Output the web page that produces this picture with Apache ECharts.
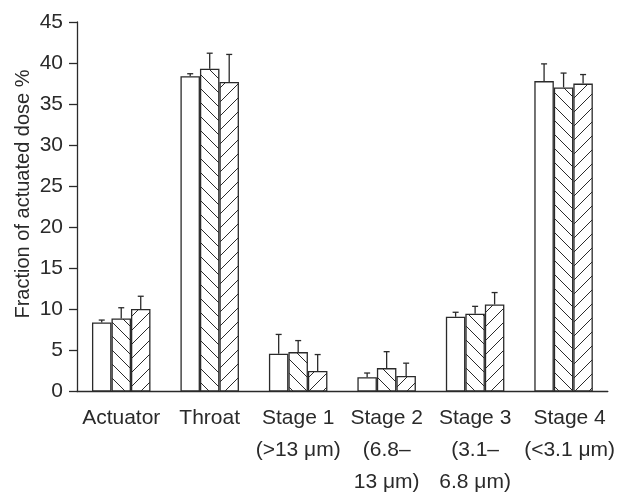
<!DOCTYPE html>
<html><head><meta charset="utf-8">
<script src="https://cdn.jsdelivr.net/npm/echarts@6/dist/echarts.min.js"></script>
<style>html,body{margin:0;padding:0;background:#fff}#c{width:618px;height:500px}</style>
</head><body><div id="c"></div>
<script>
var categories = ['Actuator', 'Throat', 'Stage 1\n(>13 μm)', 'Stage 2\n(6.8–\n13 μm)', 'Stage 3\n(3.1–\n6.8 μm)', 'Stage 4\n(<3.1 μm)'];
var seriesA = [8.4, 38.4, 4.6, 1.75, 9.1, 37.8];
var errA    = [0.3, 0.3, 2.35, 0.5, 0.55, 2.1];
var seriesB = [8.9, 39.3, 4.8, 2.85, 9.47, 37.03];
var errB    = [1.3, 1.9, 1.4, 2.0, 0.9, 1.75];
var seriesC = [10.05, 37.7, 2.5, 1.9, 10.6, 37.5];
var errC    = [1.55, 3.35, 2.0, 1.55, 1.45, 1.1];
var yTicks = [0, 5, 10, 15, 20, 25, 30, 35, 40, 45];
var yTitle = 'Fraction of actuated dose %';

var FONT = '"Liberation Sans", Arial, sans-serif';
var INK = '#2a2a2a';
var BARW = 19.5;

function hatch(dir) {
  var s = 14;
  var c = document.createElement('canvas');
  c.width = s; c.height = s;
  var g = c.getContext('2d');
  g.fillStyle = '#fff'; g.fillRect(0, 0, s, s);
  g.strokeStyle = INK; g.lineWidth = 1;
  g.beginPath();
  if (dir === 'back') {
    g.moveTo(-2, -2); g.lineTo(s + 2, s + 2);
    g.moveTo(-2, s - 2); g.lineTo(2, s + 2);
    g.moveTo(s - 2, -2); g.lineTo(s + 2, 2);
  } else {
    g.moveTo(-2, s + 2); g.lineTo(s + 2, -2);
    g.moveTo(-2, 2); g.lineTo(2, -2);
    g.moveTo(s - 2, s + 2); g.lineTo(s + 2, s - 2);
  }
  g.stroke();
  return c;
}

var chart = echarts.init(document.getElementById('c'), null, {renderer: 'canvas'});

function errSeries(vals, errs, idx) {
  return {
    type: 'custom',
    z: 5,
    data: vals.map(function (v, i) { return [i, v, errs[i]]; }),
    renderItem: function (params, api) {
      var i = api.value(0), v = api.value(1), e = api.value(2);
      var p0 = api.coord([i, v]);
      var p1 = api.coord([i, v + e]);
      var x = p0[0] + (idx - 1) * BARW;
      return {
        type: 'group',
        children: [
          {type: 'line', shape: {x1: x, y1: p0[1], x2: x, y2: p1[1]}, style: {stroke: INK, lineWidth: 1.3}},
          {type: 'line', shape: {x1: x - 3, y1: p1[1], x2: x + 3, y2: p1[1]}, style: {stroke: INK, lineWidth: 1.3}}
        ]
      };
    }
  };
}

var barBase = {
  type: 'bar',
  barWidth: BARW,
  barGap: '0%',
  animation: false
};

var catData = categories.map(function (c, i) {
  return i === 5 ? {value: c, textStyle: {padding: [0, 0, 0, 12]}} : c;
});

chart.setOption({
  animation: false,
  grid: {left: 77, right: 10, top: 22, bottom: 108.5},
  graphic: [{
    type: 'text',
    x: 23, y: 194,
    rotation: Math.PI / 2,
    style: {
      text: yTitle, fill: INK, font: '20px ' + FONT,
      textAlign: 'center', textVerticalAlign: 'middle'
    }
  }],
  xAxis: {
    type: 'category',
    data: catData,
    axisLine: {lineStyle: {color: INK, width: 1.3}},
    axisTick: {show: false},
    axisLabel: {
      color: INK, fontFamily: FONT, fontSize: 21, lineHeight: 32, margin: 11,
      interval: 0, verticalAlign: 'top'
    }
  },
  yAxis: {
    type: 'value',
    min: 0, max: 45, interval: 5,
    axisLine: {show: true, lineStyle: {color: INK, width: 1.3}},
    axisTick: {show: true, length: 8, lineStyle: {color: INK, width: 1.3}},
    splitLine: {show: false},
    axisLabel: {
      color: INK, fontFamily: FONT, fontSize: 21, margin: 14,
      formatter: function (v) { return yTicks.indexOf(v) >= 0 ? String(v) : ''; }
    }
  },
  series: [
    Object.assign({}, barBase, {data: seriesA, itemStyle: {color: '#fff', borderColor: INK, borderWidth: 1.3}}),
    Object.assign({}, barBase, {data: seriesB, itemStyle: {color: {image: hatch('back'), repeat: 'repeat'}, borderColor: INK, borderWidth: 1.3}}),
    Object.assign({}, barBase, {data: seriesC, itemStyle: {color: {image: hatch('fwd'), repeat: 'repeat'}, borderColor: INK, borderWidth: 1.3}}),
    errSeries(seriesA, errA, 0),
    errSeries(seriesB, errB, 1),
    errSeries(seriesC, errC, 2)
  ]
});
</script>
</body></html>
